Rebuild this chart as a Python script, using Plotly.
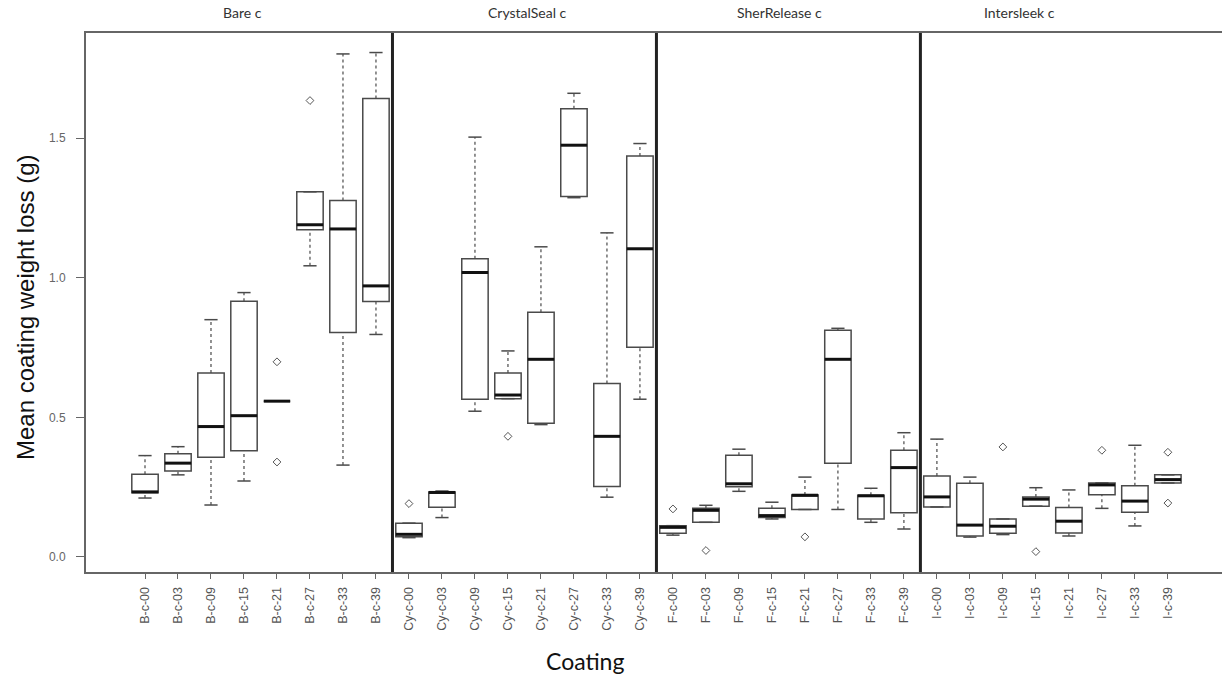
import plotly.graph_objects as go

# ---------------- data ----------------
panels = ["Bare c", "CrystalSeal c", "SherRelease c", "Intersleek c"]
categories = [
    "B-c-00", "B-c-03", "B-c-09", "B-c-15", "B-c-21", "B-c-27", "B-c-33", "B-c-39",
    "Cy-c-00", "Cy-c-03", "Cy-c-09", "Cy-c-15", "Cy-c-21", "Cy-c-27", "Cy-c-33", "Cy-c-39",
    "F-c-00", "F-c-03", "F-c-09", "F-c-15", "F-c-21", "F-c-27", "F-c-33", "F-c-39",
    "I-c-00", "I-c-03", "I-c-09", "I-c-15", "I-c-21", "I-c-27", "I-c-33", "I-c-39",
]
group_sizes = [8, 8, 8, 8]

lower_whisker = [0.211, 0.294, 0.186, 0.272, 0.558, 1.043, 0.329, 0.797,
                 0.069, 0.141, 0.522, 0.567, 0.474, 1.287, 0.214, 0.565,
                 0.078, 0.124, 0.235, 0.136, 0.170, 0.170, 0.124, 0.100,
                 0.179, 0.071, 0.080, 0.182, 0.075, 0.174, 0.111, 0.265]
q1 = [0.230, 0.308, 0.357, 0.380, 0.558, 1.172, 0.804, 0.915,
      0.072, 0.178, 0.565, 0.567, 0.479, 1.291, 0.252, 0.751,
      0.085, 0.124, 0.251, 0.141, 0.170, 0.336, 0.136, 0.158,
      0.179, 0.075, 0.085, 0.182, 0.086, 0.223, 0.160, 0.265]
median = [0.233, 0.336, 0.467, 0.506, 0.558, 1.190, 1.175, 0.971,
          0.081, 0.231, 1.019, 0.580, 0.708, 1.475, 0.432, 1.104,
          0.106, 0.167, 0.262, 0.148, 0.221, 0.708, 0.219, 0.320,
          0.215, 0.114, 0.110, 0.207, 0.128, 0.258, 0.200, 0.277]
q3 = [0.296, 0.370, 0.659, 0.916, 0.558, 1.308, 1.277, 1.642,
      0.121, 0.233, 1.068, 0.659, 0.877, 1.606, 0.621, 1.436,
      0.112, 0.174, 0.364, 0.174, 0.222, 0.812, 0.221, 0.382,
      0.290, 0.264, 0.136, 0.215, 0.177, 0.265, 0.255, 0.294]
upper_whisker = [0.363, 0.395, 0.850, 0.947, 0.558, 1.308, 1.802, 1.807,
                 0.121, 0.236, 1.504, 0.738, 1.111, 1.661, 1.161, 1.481,
                 0.112, 0.185, 0.386, 0.196, 0.286, 0.819, 0.246, 0.445,
                 0.422, 0.286, 0.136, 0.248, 0.240, 0.265, 0.400, 0.294]
outliers = [[], [], [], [], [0.699, 0.340], [1.635], [], [],
            [0.191], [], [], [0.432], [], [], [], [],
            [0.172], [0.023], [], [], [0.072], [], [], [],
            [], [], [0.394], [0.019], [], [0.382], [], [0.375, 0.193]]

y_ticks = [0.0, 0.5, 1.0, 1.5]
y_tick_text = ["0.0", "0.5", "1.0", "1.5"]

# ---------------- styling ----------------
LINE = "#4a4a4a"
BOX_W = 0.8
CAP_W = 0.4
pos = list(range(len(categories)))

fig = go.Figure()

# whiskers (dashed)
wx, wy = [], []
for p, lw, a, b, uw in zip(pos, lower_whisker, q1, q3, upper_whisker):
    if uw > b:
        wx += [p, p, None]; wy += [b, uw, None]
    if lw < a:
        wx += [p, p, None]; wy += [lw, a, None]
fig.add_trace(go.Scatter(x=wx, y=wy, mode="lines", hoverinfo="skip",
                         line=dict(color=LINE, width=1.2, dash="3px,3px"), showlegend=False))

# caps (solid)
cx, cy = [], []
for p, lw, uw in zip(pos, lower_whisker, upper_whisker):
    cx += [p - CAP_W / 2, p + CAP_W / 2, None, p - CAP_W / 2, p + CAP_W / 2, None]
    cy += [uw, uw, None, lw, lw, None]
fig.add_trace(go.Scatter(x=cx, y=cy, mode="lines", hoverinfo="skip",
                         line=dict(color=LINE, width=1.5), showlegend=False))

# boxes
fig.add_trace(go.Box(x=pos, q1=q1, median=median, q3=q3,
                     lowerfence=q1, upperfence=q3, width=BOX_W,
                     fillcolor="white", line=dict(color=LINE, width=1.5),
                     boxpoints=False, showlegend=False))

# thick medians
mx, my = [], []
for p, m in zip(pos, median):
    mx += [p - BOX_W / 2, p + BOX_W / 2, None]
    my += [m, m, None]
fig.add_trace(go.Scatter(x=mx, y=my, mode="lines", hoverinfo="skip",
                         line=dict(color="#111111", width=3), showlegend=False))

# outliers
ox, oy = [], []
for p, outs in zip(pos, outliers):
    for o in outs:
        ox.append(p); oy.append(o)
fig.add_trace(go.Scatter(x=ox, y=oy, mode="markers", showlegend=False,
                         marker=dict(symbol="diamond-open", size=6, color="#555555",
                                     line=dict(width=1))))

# panel dividers
edge = -0.5
dividers = []
for g in group_sizes[:-1]:
    edge += g
    dividers.append(edge)
for d in dividers:
    fig.add_shape(type="line", xref="x", yref="paper", x0=d, x1=d, y0=0, y1=1,
                  line=dict(color="#222222", width=3))

# panel headers
header_x = [2.94, 11.6, 19.24, 26.5]
for name, hx in zip(panels, header_x):
    fig.add_annotation(x=hx, y=1 + (33 - 12) / 539, xref="x", yref="paper",
                       yanchor="middle", text=name, showarrow=False,
                       font=dict(family="Lato", size=14, color="#333333"))

# axis titles
fig.add_annotation(x=-(86 - 25) / 1136, y=(572 - 308) / 539, xref="paper", yref="paper",
                   xanchor="center", yanchor="middle",
                   text="Mean coating weight loss (g)", textangle=-90, showarrow=False,
                   font=dict(family="Liberation Sans", size=24, color="#111111"))
fig.add_annotation(x=(585 - 86) / 1136, y=-(661 - 572) / 539, xref="paper", yref="paper",
                   xanchor="center", yanchor="middle",
                   text="Coating", showarrow=False,
                   font=dict(family="Lato", size=23, color="#111111"))

fig.update_layout(
    width=1222, height=676,
    margin=dict(l=86, r=0, t=33, b=104),
    paper_bgcolor="white", plot_bgcolor="white",
    xaxis=dict(range=[-1.788, 32.64], tickmode="array", tickvals=pos, ticktext=categories,
               tickangle=-90, ticks="outside", ticklen=5, tickcolor="#666666",
               ticklabelstandoff=3,
               tickfont=dict(family="Liberation Sans", size=12.5, color="#555555"),
               showline=True, linecolor="#666666", linewidth=2, mirror=True,
               showgrid=False, zeroline=False),
    yaxis=dict(range=[-0.054, 1.877], tickmode="array", tickvals=y_ticks, ticktext=y_tick_text,
               ticks="outside", ticklen=8, tickcolor="#666666",
               ticklabelstandoff=8,
               tickfont=dict(family="Liberation Sans", size=12, color="#666666"),
               showline=True, linecolor="#666666", linewidth=2,
               showgrid=False, zeroline=False),
)

fig.write_html("out.html")
